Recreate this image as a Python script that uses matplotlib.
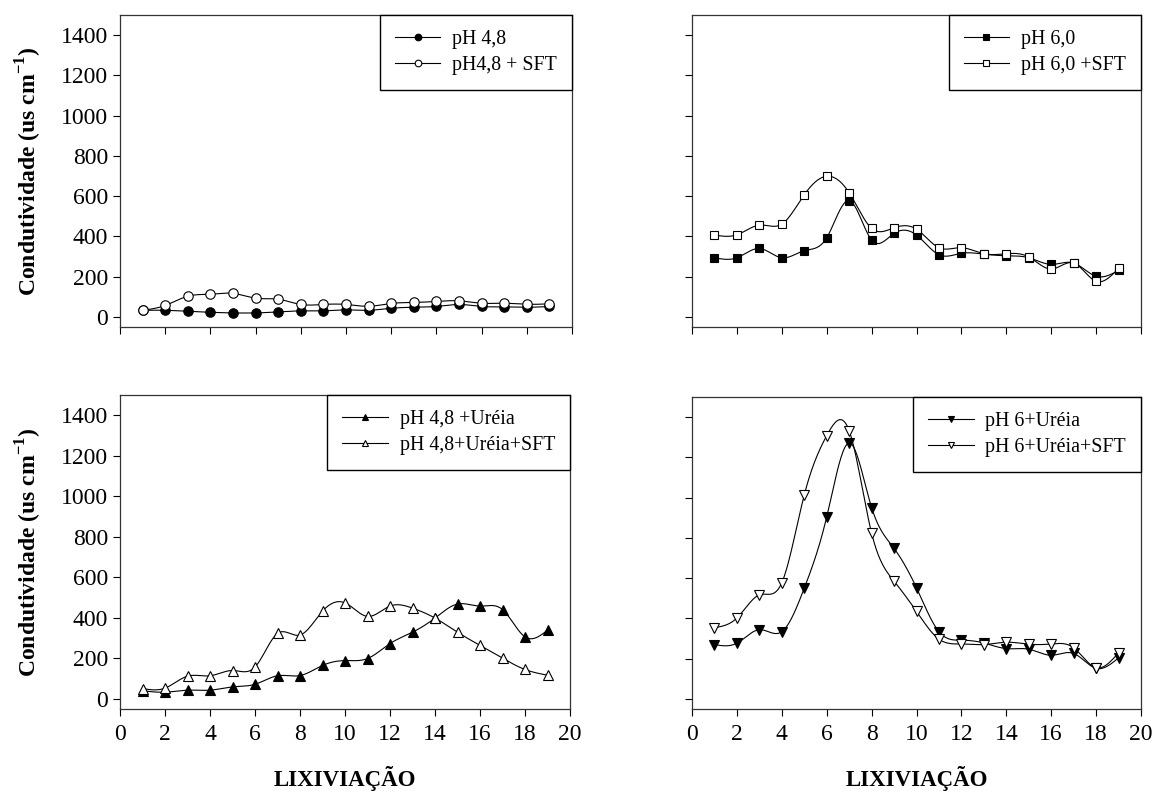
import matplotlib
matplotlib.use("Agg")
import matplotlib.pyplot as plt
import numpy as np

plt.rcParams["font.family"] = ["Liberation Serif", "DejaVu Serif"]
plt.rcParams["mathtext.fontset"] = "custom"
plt.rcParams["mathtext.rm"] = "Liberation Serif"
plt.rcParams["mathtext.bf"] = "Liberation Serif:bold"

LIXIVIACAO = list(range(1, 20))

PH48 = [33, 33, 28, 23, 20, 20, 25, 30, 30, 35, 33, 43, 48, 52, 62, 52, 50, 48, 52]
PH48_SFT = [33, 57, 103, 113, 117, 93, 88, 62, 62, 62, 53, 67, 72, 77, 80, 68, 68, 63, 65]

PH60 = [294, 294, 340, 294, 329, 393, 578, 382, 415, 407, 309, 316, 312, 304, 294, 261, 268, 202, 231]
PH60_SFT = [407, 408, 456, 461, 607, 699, 617, 440, 443, 436, 344, 344, 314, 314, 298, 238, 268, 177, 241]

PH48_UREIA = [40, 33, 43, 43, 59, 72, 114, 115, 165, 189, 199, 273, 329, 399, 468, 458, 441, 306, 339]
PH48_UREIA_SFT = [51, 53, 112, 114, 140, 157, 323, 315, 433, 474, 407, 458, 448, 399, 329, 264, 201, 145, 117]

PH6_UREIA = [270, 277, 344, 334, 550, 904, 1272, 951, 748, 552, 334, 292, 278, 250, 247, 217, 226, 152, 204]
PH6_UREIA_SFT = [354, 402, 517, 577, 1013, 1308, 1333, 824, 585, 435, 297, 273, 270, 282, 272, 273, 254, 155, 229]

YTICKS = [0, 200, 400, 600, 800, 1000, 1200, 1400]
XTICKS = [0, 2, 4, 6, 8, 10, 12, 14, 16, 18, 20]


def natural_spline(x, y, n=400):
    x = np.asarray(x, dtype=float)
    y = np.asarray(y, dtype=float)
    k = len(x)
    h = np.diff(x)
    a = np.zeros((k, k))
    b = np.zeros(k)
    a[0, 0] = 1.0
    a[-1, -1] = 1.0
    for i in range(1, k - 1):
        a[i, i - 1] = h[i - 1]
        a[i, i] = 2 * (h[i - 1] + h[i])
        a[i, i + 1] = h[i]
        b[i] = 3 * ((y[i + 1] - y[i]) / h[i] - (y[i] - y[i - 1]) / h[i - 1])
    c = np.linalg.solve(a, b)
    xs = np.linspace(x[0], x[-1], n)
    idx = np.clip(np.searchsorted(x, xs) - 1, 0, k - 2)
    dx = xs - x[idx]
    bb = (y[idx + 1] - y[idx]) / h[idx] - h[idx] * (2 * c[idx] + c[idx + 1]) / 3
    dd = (c[idx + 1] - c[idx]) / (3 * h[idx])
    ys = y[idx] + bb * dx + c[idx] * dx ** 2 + dd * dx ** 3
    return xs, ys


def draw_panel(ax, series, show_xlabels, show_ylabels):
    for values, marker, face, label, ms in series:
        xs, ys = natural_spline(LIXIVIACAO, values)
        ax.plot(xs, ys, color="black", linewidth=0.8, zorder=2)
        ax.plot(LIXIVIACAO, values, linestyle="none", marker=marker, markersize=ms,
                markerfacecolor=face, markeredgecolor="black", markeredgewidth=0.8, zorder=3)
        ax.plot([], [], color="black", linewidth=0.8, marker=marker, markersize=ms * 0.7,
                markerfacecolor=face, markeredgecolor="black", markeredgewidth=0.8, label=label)
    ax.set_xlim(0, 20)
    ax.set_ylim(-50, 1500)
    ax.set_xticks(XTICKS)
    ax.set_yticks(YTICKS)
    ax.tick_params(axis="both", direction="out", length=5, width=0.8, labelsize=17,
                   top=False, right=False)
    ax.tick_params(axis="x", pad=6)
    if not show_xlabels:
        ax.set_xticklabels([])
    if not show_ylabels:
        ax.set_yticklabels([])
    for spine in ax.spines.values():
        spine.set_linewidth(0.9)
        spine.set_color("#333333")
    leg = ax.legend(loc="upper right", bbox_to_anchor=(1.0, 1.0), borderaxespad=0.0,
                    fancybox=False, framealpha=1.0, edgecolor="black", fontsize=14.3,
                    handlelength=2.3, borderpad=0.75, handletextpad=0.6, labelspacing=0.35)
    leg.get_frame().set_linewidth(1.0)


fig = plt.figure(figsize=(11.56, 7.97), dpi=100)
W, H = 1156, 797


def add_axes(left, top, right, bottom):
    return fig.add_axes([left / W, 1 - bottom / H, (right - left) / W, (bottom - top) / H])


ax_tl = add_axes(120, 15, 572, 327)
ax_tr = add_axes(692, 15, 1141, 327)
ax_bl = add_axes(120, 395, 570, 709)
ax_br = add_axes(692, 397, 1141, 709)

draw_panel(ax_tl, [
    (PH48, "o", "black", "pH 4,8", 6.8),
    (PH48_SFT, "o", "white", "pH4,8 + SFT", 6.8),
], False, True)

draw_panel(ax_tr, [
    (PH60, "s", "black", "pH 6,0", 5.8),
    (PH60_SFT, "s", "white", "pH 6,0 +SFT", 5.8),
], False, False)

draw_panel(ax_bl, [
    (PH48_UREIA, "^", "black", "pH 4,8 +Uréia", 6.5),
    (PH48_UREIA_SFT, "^", "white", "pH 4,8+Uréia+SFT", 6.5),
], True, True)

draw_panel(ax_br, [
    (PH6_UREIA, "v", "black", "pH 6+Uréia", 6.5),
    (PH6_UREIA_SFT, "v", "white", "pH 6+Uréia+SFT", 6.5),
], True, False)

ylabel = r"Condutividade (us cm$^{\mathbf{-1}}$)"
for ax in (ax_tl, ax_bl):
    ax.set_ylabel(ylabel, fontsize=17, fontweight="bold", labelpad=12)
for ax in (ax_bl, ax_br):
    ax.set_xlabel("LIXIVIAÇÃO", fontsize=16.5, fontweight="bold", labelpad=15)

fig.savefig("out.png", dpi=100)
